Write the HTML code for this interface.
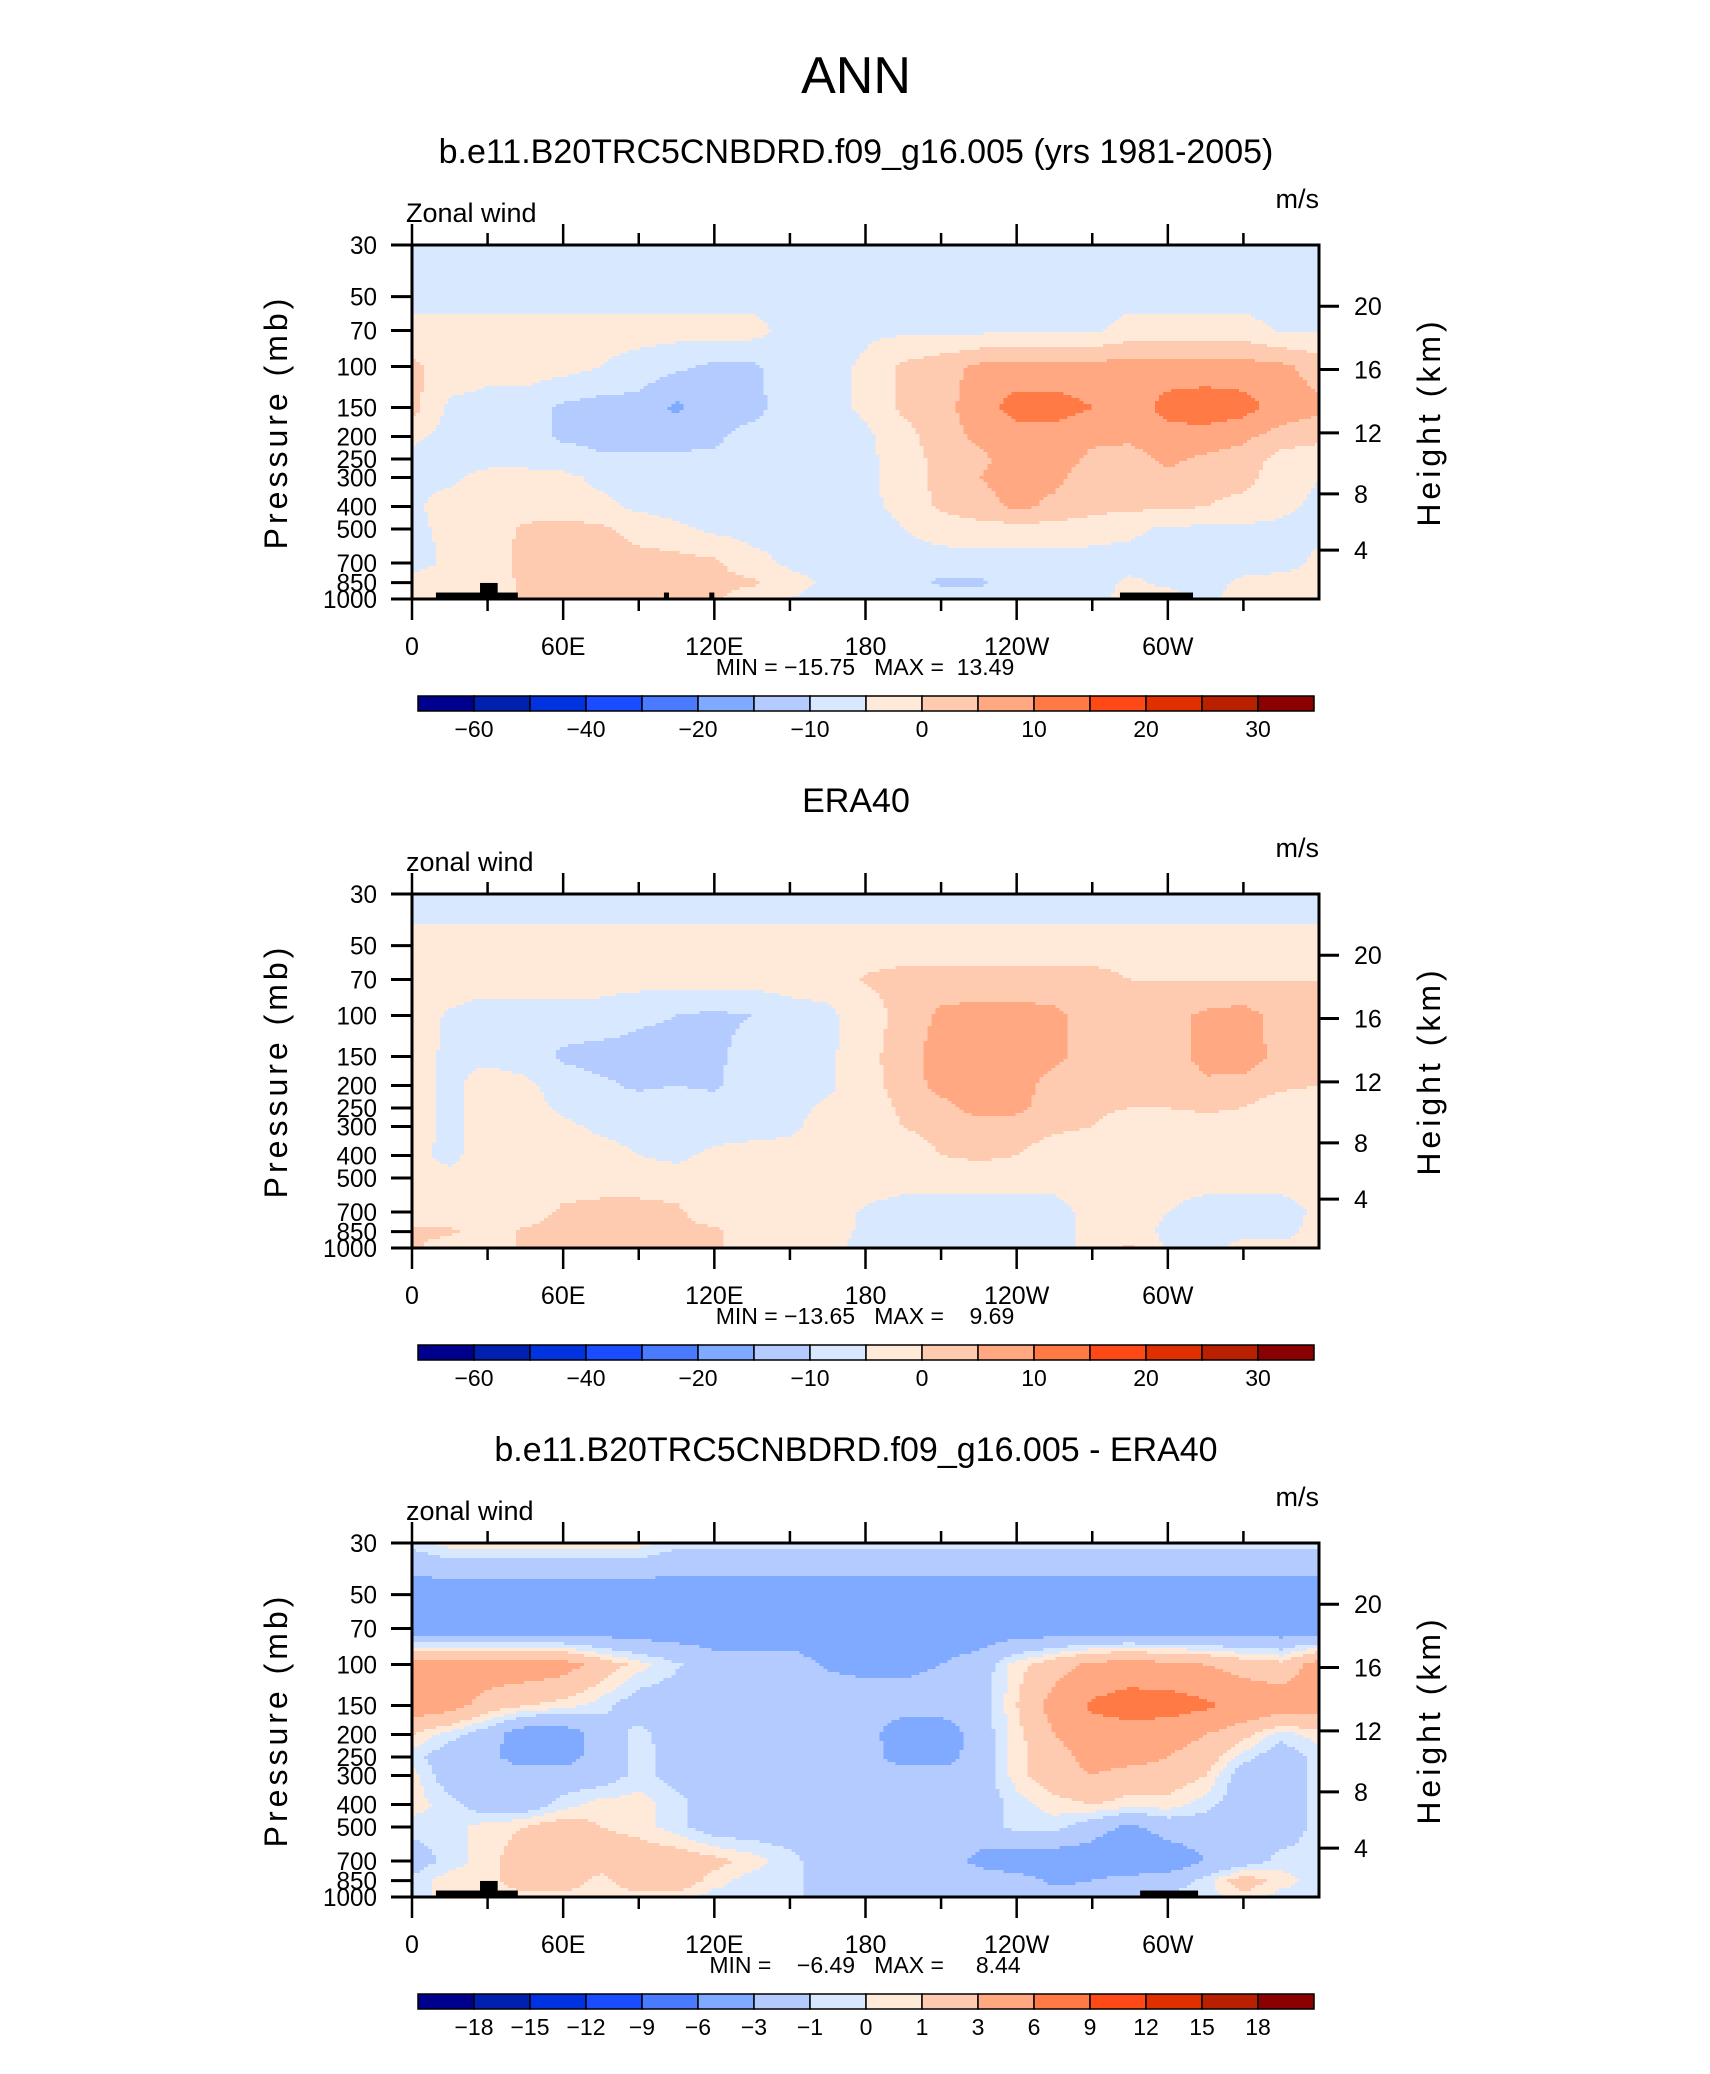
<!DOCTYPE html>
<html><head><meta charset="utf-8">
<style>
html,body{margin:0;padding:0;background:#fff;}
svg{display:block;font-family:"Liberation Sans",sans-serif;}
</style></head>
<body>
<svg id="fig" xmlns="http://www.w3.org/2000/svg" width="1710" height="2074" viewBox="0 0 1710 2074">
<text x="856" y="93" font-size="52" text-anchor="middle" font-weight="300" fill="#000">ANN</text>
</svg>
<script>
// ---- shared axes data ----
const lons = [0,15,30,45,60,75,90,105,120,135,150,165,180,195,210,225,240,255,270,285,300,315,330,345,360];
const levels = [30,50,70,100,150,200,250,300,400,500,700,850,1000];
const pTickLabels = [30,50,70,100,150,200,250,300,400,500,700,850,1000];
const lonTickLabels = ["0","60E","120E","180","120W","60W"];
const lonTickValues = [0,60,120,180,240,300];
const heightTickLabels = ["20","16","12","8","4"];
const heightTickPressures = [55,103,193,353,616];
const colors = ["#00008f","#0020b0","#0032e0","#1a4dff","#4a7bff","#80aaff","#b3cbff","#d7e8ff","#ffead9","#ffcbb0","#ffa882","#ff7a45","#ff4a18","#e03000","#b82000","#8b0000"];
const bounds12 = [-70,-60,-50,-40,-30,-20,-15,-10,-5,0,5,10,15,20,25,30,35];
const cbLabels12 = ["","-60","","-40","","-20","","-10","","0","","10","","20","","30",""];
const bounds3 = [-21,-18,-15,-12,-9,-6,-3,-1,0,1,3,6,9,12,15,18,21];
const cbLabels3 = ["","-18","-15","-12","-9","-6","-3","-1","0","1","3","6","9","12","15","18",""];

// ---- panel 1: model zonal wind (rows = levels, cols = lons) ----
const u1 = [
[-7,-7,-7,-7,-7,-7,-7,-7,-7,-7,-7,-7,-7,-7,-7,-7,-7,-7,-7,-7,-7,-7,-7,-7,-7],
[-7,-7,-7,-7,-7,-7,-7,-7,-7,-7,-7,-7,-7,-7,-7,-7,-7,-7,-7,-7,-7,-7,-7,-7,-7],
[-3,-3,-3,-3,-3,-3,-3,-3,-3,-3,-7,-7,-6,-6,-6,-6,-6,-6,-6,-3,-3,-3,-3,-5.5,-5.5],
[1,-2,-3,-3,-3,-5,-7,-9,-11,-11,-7,-7,-4,1,3,6,7,7,7,7,7,7,7,6,3],
[2,-6,-7,-7,-11,-12,-12,-16,-12,-12,-7,-7,-4,1,3,8,12,12,10,7,12,13,12,8,6],
[-4,-7,-7,-7,-11,-12,-12,-12,-11,-8,-7,-7,-6,-2,3,6,8,8,6,6,8,8,6,3,2],
[-6,-7,-7,-7,-7,-9,-9,-9,-9,-7,-7,-7,-6,-3,2,4,7,7,4,3,6,4,3,-2,-4],
[-6,-6,-3,-3,-4,-6,-7,-7,-7,-7,-7,-7,-6,-3,2,5,7,6,3,2,4,3,2,-3,-5],
[-6,-3,-3,-3,-3,-4,-6,-7,-7,-7,-7,-7,-6,-4,1,3,6,4,2,1,1,0,-2,-4,-6],
[-6,-4,-3,1,2,1,-2,-4,-6,-7,-7,-7,-7,-5,-3,-2,-2,-2,-3,-4,-6,-6,-6,-6,-6],
[-7,-4,-3,2,3,3,2,2,1,-3,-6,-7,-7,-7,-7,-7,-7,-7,-7,-7,-7,-7,-7,-7,-4],
[-3,-3,-3,1,2,2,2,1,1,1,-3,-6,-7,-7,-11,-11,-7,-7,-7,-4,-6,-7,-4,-3,-3],
[-3,-3,-3,1,1,1,1,1,1,-3,-5,-7,-7,-7,-7,-7,-7,-7,-7,-3,-3,-6,-3,-3,-3]
];
// ---- panel 2: ERA40 zonal wind ----
const u2 = [
[-8,-8,-8,-8,-8,-8,-8,-8,-8,-8,-8,-8,-8,-8,-8,-8,-8,-8,-8,-8,-8,-8,-8,-8,-8],
[-3,-3,-3,-3,-3,-3,-3,-3,-3,-3,-3,-3,-3,-3,-3,-3,-3,-3,-3,-3,-3,-3,-3,-3,-3],
[-3,-3,-3,-3,-3,-3,-3,-3,-3,-3,-3,-3,0.5,2,2,2,2,2,2,0,0,0,0,0,0],
[-3,-5.5,-7,-7,-7,-7,-9,-10,-11,-10,-7,-6,-3,2,6,7,7,6,3,2,3,6,7,3,1],
[-3,-6,-6,-7,-11,-12,-12,-12,-11,-8,-7,-6,-2,3,7,8,8,6,3,2,2,7,8,3,3],
[-3,-6,-3,-4,-7,-9,-11,-10,-11,-7,-7,-6,-2,2,7,8,7,3,1,1,1,4,3,1,0],
[-3,-6,-3,-3,-6,-7,-7,-7,-7,-7,-6.5,-4,-3,1,3,7,6,3,1,0,0,1,0,-3,-3],
[-3,-6,-3,-3,-4,-6,-7,-7,-7,-7,-6,-3,-3,0,2,3,3,1,0,-3,-3,-3,-3,-3,-3],
[-4,-6,-3,-3,-3,-3,-5,-6,-4,-3,-3,-3,-3,-3,0,1,0,-3,-3,-3,-3,-3,-3,-3,-3],
[-3,-4,-3,-3,-3,-3,-3,-3,-3,-3,-3,-3,-3,-3,-3,-3,-3,-3,-3,-3,-3,-3,-3,-3,-3],
[-3,-4,-3,-3,1,2,2,1,-3,-3,-3,-3,-5.5,-7,-7,-7,-7,-7,-3,-3,-5,-7,-7,-7,-4],
[1,1,-3,1,2,2,2,1,1,-3,-3,-3,-6,-7,-7,-7,-7,-7,-3,-3,-6,-7,-7,-7,-3],
[1,-3,-3,1,2,2,2,1,1,-3,-3,-3,-7,-7,-7,-7,-7,-7,-3,1,-6,-7,-3,-3,-3]
];
// ---- panel 3: difference ----
const u3 = [
[-0.5,0.5,0.5,0.5,0.5,0.5,0.5,-0.5,-0.5,-0.5,-0.5,-0.5,-0.5,-0.5,-0.5,-0.5,-0.5,-0.5,-0.5,-0.5,-0.5,-0.5,-0.5,-0.5,-0.5],
[-4.5,-4.5,-4.5,-4.5,-4.5,-4.5,-4.5,-4.5,-4.5,-4.5,-4.5,-4.5,-4.5,-4.5,-4.5,-4.5,-4.5,-4.5,-4.5,-4.5,-4.5,-4.5,-4.5,-4.5,-4.5],
[-4.5,-4.5,-4.5,-4.5,-4.5,-4.5,-4.5,-4.5,-4.5,-4.5,-4.5,-4.5,-4.5,-4.5,-4.5,-4.5,-4.5,-4.5,-4.5,-4.5,-4.5,-4.5,-4.5,-4.5,-4.5],
[4.5,4.5,4.5,4.5,4,2,0.5,-0.8,-2,-2,-2,-3.2,-3.5,-3.5,-3,-2,0.5,2,3.5,4,3.5,3,2,1.5,4],
[4.5,4,2,1,0.5,-0.5,-2,-2,-2,-2,-2,-2,-2,-2,-2,-2,1,4,6.5,7.5,7.5,6.5,5,4.5,4],
[1,-0.5,-2,-4.5,-4.5,-2,-0.5,-2,-2,-2,-2,-2,-2,-4.5,-4.5,-2,0.5,3,4.5,4.5,4,3,1.5,-0.5,0.5],
[-0.5,-2,-2.5,-4,-4,-2,-0.5,-1.5,-2,-2,-2,-2,-2,-4,-4,-2,0.5,2,4,4,3,2,-0.5,-2,-0.5],
[0.5,-2,-2,-2,-2,-2,-0.5,-1.5,-2,-2,-2,-2,-2,-2,-2,-2,0.5,2,3,2,2,1,-2,-2,-0.5],
[0.5,-0.5,-2,-2,-0.5,0.5,0.5,-0.5,-2,-2,-2,-2,-2,-2,-2,-2,-0.5,0.5,1,0.5,0.5,-0.5,-2,-2,-0.5],
[-0.5,-0.5,0.5,1,2,1,0.5,-0.5,-2,-2,-2,-2,-2,-2,-2,-2,-0.5,-0.5,-2,-3.5,-2,-2,-2,-2,-0.5],
[-2,-0.5,0.5,2,2,2,2,2,1.5,0.5,-0.5,-2,-2,-2,-2,-3.5,-4.5,-4.5,-4.5,-5.5,-4.5,-3,-2,-0.5,-0.5],
[-0.5,0.5,0.5,2,2,0.5,2,2,0.5,-0.5,-0.5,-2,-2,-2,-2,-2,-2,-3.5,-3,-2,-2,-0.5,2,0.5,-0.5],
[-0.5,0.5,0.5,0.5,0.5,0.5,0.5,0.5,-0.5,-0.5,-0.5,-2,-2,-2,-2,-2,-2,-2,-2,-2,-0.5,-0.5,0.5,-0.5,-0.5]
];
// topography blocks: [lonStart, lonEnd, topPressure]
const topo1 = [[9.5,42,938],[27,34,853],[100,102,938],[118,120,938],[281,310,938]];
const topo2 = [];
const topo3 = [[9.5,42,938],[27,34,853],[289,312,938]];

const NS = "http://www.w3.org/2000/svg";
const svg = document.getElementById('fig');
const X0 = 412, W = 907, H = 354;
const LP = Math.log(1000/30);
function xOfLon(l){ return X0 + W*l/360; }
function yOfP(top,p){ return top + H*Math.log(p/30)/LP; }
function mk(tag, attrs, parent){
  const e = document.createElementNS(NS, tag);
  for (const k in attrs) e.setAttribute(k, attrs[k]);
  (parent||svg).appendChild(e);
  return e;
}
function interp(u, lon, p){
  let fi = lon/15; let i = Math.min(Math.floor(fi), lons.length-2); let tx = fi - i;
  const lp = Math.log(p);
  let k = 0;
  while (k < levels.length-2 && lp > Math.log(levels[k+1])) k++;
  const l0 = Math.log(levels[k]), l1 = Math.log(levels[k+1]);
  let ty = (lp - l0)/(l1 - l0); ty = Math.max(0, Math.min(1, ty));
  const a = u[k][i], b = u[k][i+1], c = u[k+1][i], d = u[k+1][i+1];
  return (a*(1-tx)+b*tx)*(1-ty) + (c*(1-tx)+d*tx)*ty;
}
function cls(v, bounds){
  for (let j=1;j<bounds.length;j++) if (v < bounds[j]) return j-1;
  return colors.length-1;
}
const panels = [
  {top:245, title:"b.e11.B20TRC5CNBDRD.f09_g16.005 (yrs 1981-2005)", left:"Zonal wind", u:u1, bounds:bounds12, cbl:cbLabels12, topo:topo1, mm:"MIN = \u221215.75   MAX =  13.49"},
  {top:894, title:"ERA40", left:"zonal wind", u:u2, bounds:bounds12, cbl:cbLabels12, topo:topo2, mm:"MIN = \u221213.65   MAX =    9.69"},
  {top:1543, title:"b.e11.B20TRC5CNBDRD.f09_g16.005 - ERA40", left:"zonal wind", u:u3, bounds:bounds3, cbl:cbLabels3, topo:topo3, mm:"MIN =    \u22126.49   MAX =     8.44"}
];
panels.forEach((P, pi) => {
  const g = mk('g', {});
  
  
  const T = P.top;
  const tt = mk('text', {x:856, y:T-82, 'font-size':34, 'text-anchor':'middle', fill:'#000'}, g);
  tt.textContent = P.title;
  
  
  const lt = mk('text', {x:406, y:T-23, 'font-size':27, 'font-weight':300, fill:'#000'}, g);
  lt.textContent = P.left;
  
  
  const ut = mk('text', {x:1319, y:T-37, 'font-size':27, 'font-weight':300, 'text-anchor':'end', fill:'#000'}, g);
  ut.textContent = 'm/s';
  
  
  // field
  const fg = mk('g', {'shape-rendering':'crispEdges'}, g);
  
  
  const nx = 227, ny = 118, dx = W/nx, dy = H/ny;
  for (let r=0;r<ny;r++){
    const yc = (r+0.5)*dy;
    const p = 30*Math.exp(yc/H*LP);
    let start = 0, cur = -1;
    for (let c=0;c<=nx;c++){
      let k = -1;
      if (c<nx){ const lon = (c+0.5)*dx/W*360; k = cls(interp(P.u, lon, p), P.bounds); }
      if (k !== cur){
        if (cur >= 0){
          const cell = mk('rect', {x:(X0+start*dx).toFixed(2), y:(T+r*dy).toFixed(2), width:((c-start)*dx+0.6).toFixed(2), height:(dy+0.6).toFixed(2), fill:colors[cur]}, fg);
          
          
        }
        cur = k; start = c;
      }
    }
  }
  // topography
  P.topo.forEach(t => {
    const y = yOfP(T, t[2]);
    const tb = mk('rect', {x:xOfLon(t[0]), y:y, width:xOfLon(t[1])-xOfLon(t[0]), height:T+H-y, fill:'#000'}, g);
    
    
  });
  // frame
  const fr = mk('rect', {x:X0, y:T, width:W, height:H, fill:'none', stroke:'#000', 'stroke-width':3}, g);
  
  
  // pressure ticks
  pTickLabels.forEach(pv => {
    const y = yOfP(T, pv);
    const tk = mk('line', {x1:X0-21, x2:X0, y1:y, y2:y, stroke:'#000', 'stroke-width':3}, g);
    
    
    const tl = mk('text', {x:377, y:y+9, 'font-size':25, 'font-weight':300, 'text-anchor':'end', 'textLength': (String(pv).length*13.5), lengthAdjust:'spacingAndGlyphs', fill:'#000'}, g);
    tl.textContent = pv;
    
    
  });
  // height ticks
  heightTickPressures.forEach((pv, i) => {
    const y = yOfP(T, pv);
    const tk = mk('line', {x1:X0+W, x2:X0+W+20, y1:y, y2:y, stroke:'#000', 'stroke-width':3}, g);
    
    
    const tl = mk('text', {x:1354, y:y+9, 'font-size':25, 'font-weight':300, fill:'#000'}, g);
    tl.textContent = heightTickLabels[i];
    
    
  });
  // lon ticks
  for (let l=0;l<=330;l+=30){
    const x = xOfLon(l), len = (l%60===0)?21:12;
    const t1 = mk('line', {x1:x, x2:x, y1:T-len, y2:T, stroke:'#000', 'stroke-width':2.5}, g);
    
    
    const t2 = mk('line', {x1:x, x2:x, y1:T+H, y2:T+H+len, stroke:'#000', 'stroke-width':2.5}, g);
    
    
  }
  lonTickValues.forEach((l, i) => {
    const tl = mk('text', {x:xOfLon(l), y:T+H+56, 'font-size':25, 'font-weight':300, 'text-anchor':'middle', fill:'#000'}, g);
    tl.textContent = lonTickLabels[i];
    
    
  });
  const mm = mk('text', {x:865, y:T+H+76, 'font-size':23, 'font-weight':300, 'text-anchor':'middle', fill:'#000', 'xml:space':'preserve', style:'white-space:pre'}, g);
  mm.textContent = P.mm;
  
  
  // axis titles
  const ya = mk('text', {x:0, y:0, transform:`translate(287,${T+177}) rotate(-90)`, 'font-size':32, 'font-weight':300, 'letter-spacing':4, 'text-anchor':'middle', fill:'#000'}, g);
  ya.textContent = 'Pressure (mb)';
  
  
  const ha = mk('text', {x:0, y:0, transform:`translate(1440,${T+177}) rotate(-90)`, 'font-size':32, 'font-weight':300, 'letter-spacing':4, 'text-anchor':'middle', fill:'#000'}, g);
  ha.textContent = 'Height (km)';
  
  
  // colorbar
  const cbY = T+451, cbX = 418, bw = 56;
  colors.forEach((c, i) => {
    const b = mk('rect', {x:cbX+i*bw, y:cbY, width:bw, height:15, fill:c, stroke:'#000', 'stroke-width':1.5}, g);
    
    
  });
  P.cbl.forEach((s, i) => {
    if (!s) return;
    const tl = mk('text', {x:cbX+i*bw, y:cbY+41, 'font-size':23, 'font-weight':300, 'text-anchor':'middle', fill:'#000'}, g);
    tl.textContent = s.replace('-', '\u2212');
    
    
  });
});
</script>
</body></html>
